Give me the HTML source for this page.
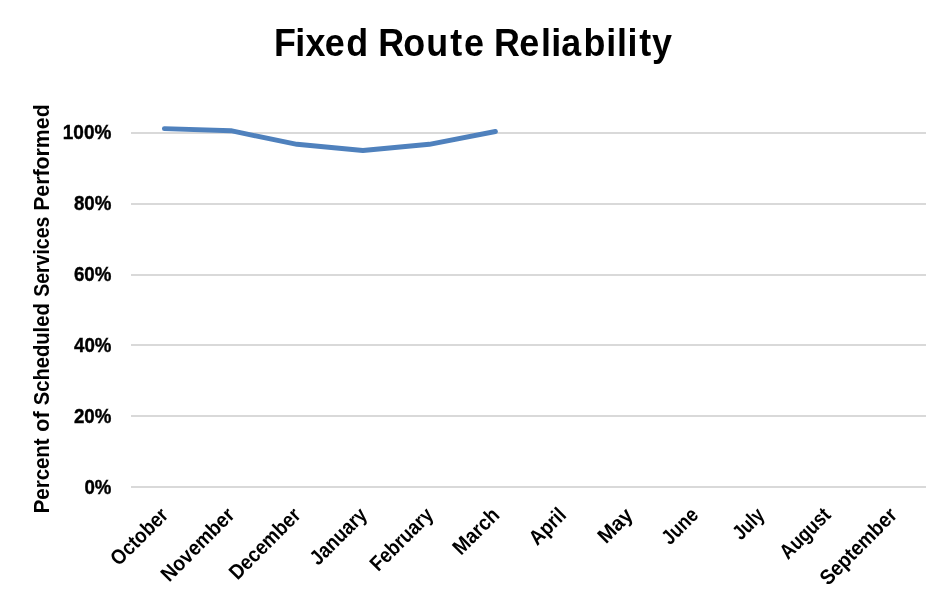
<!DOCTYPE html>
<html lang="en"><head><meta charset="utf-8"><title>Fixed Route Reliability</title>
<style>html,body{margin:0;padding:0;background:#fff;}svg{display:block;}text{font-family:"Liberation Sans",Arial,sans-serif;font-weight:bold;fill:#000;}</style></head>
<body>
<svg xmlns="http://www.w3.org/2000/svg" width="944" height="600" viewBox="0 0 944 600">
<rect width="944" height="600" fill="#fff"/>
<rect x="131" y="132" width="795" height="2" fill="#d9d9d9"/>
<rect x="131" y="203" width="795" height="2" fill="#d9d9d9"/>
<rect x="131" y="274" width="795" height="2" fill="#d9d9d9"/>
<rect x="131" y="344" width="795" height="2" fill="#d9d9d9"/>
<rect x="131" y="415" width="795" height="2" fill="#d9d9d9"/>
<rect x="131" y="486" width="795" height="2" fill="#d9d9d9"/>
<text transform="scale(0.9050,1)" y="56" font-size="39.6" x="302.80 326.16 337.55 358.82 382.66 408.86 417.95 445.52 471.08 497.45 512.59 539.25 545.97 573.86 597.69 609.15 620.26 644.72 669.93 681.64 693.30 706.24 720.44">Fixed Route Reliability</text>
<text x="62.81" y="139" font-size="20.2" stroke="#000" stroke-width="0.4" textLength="48.56" lengthAdjust="spacingAndGlyphs">100%</text>
<text x="73.92" y="210" font-size="20.2" stroke="#000" stroke-width="0.4" textLength="37.45" lengthAdjust="spacingAndGlyphs">80%</text>
<text x="73.92" y="281" font-size="20.2" stroke="#000" stroke-width="0.4" textLength="37.45" lengthAdjust="spacingAndGlyphs">60%</text>
<text x="74.00" y="352" font-size="20.2" stroke="#000" stroke-width="0.4" textLength="37.36" lengthAdjust="spacingAndGlyphs">40%</text>
<text x="73.92" y="423" font-size="20.2" stroke="#000" stroke-width="0.4" textLength="37.45" lengthAdjust="spacingAndGlyphs">20%</text>
<text x="84.42" y="494" font-size="20.2" stroke="#000" stroke-width="0.4" textLength="26.95" lengthAdjust="spacingAndGlyphs">0%</text>
<text transform="translate(49.2,513.28) rotate(-90)" font-size="21.6" textLength="74.88" lengthAdjust="spacingAndGlyphs">Percent</text>
<text transform="translate(49.2,431.67) rotate(-90)" font-size="21.6" textLength="20.24" lengthAdjust="spacingAndGlyphs">of</text>
<text transform="translate(49.2,405.32) rotate(-90)" font-size="21.6" textLength="102.11" lengthAdjust="spacingAndGlyphs">Scheduled</text>
<text transform="translate(49.2,296.80) rotate(-90)" font-size="21.6" textLength="80.09" lengthAdjust="spacingAndGlyphs">Services</text>
<text transform="translate(49.2,210.83) rotate(-90)" font-size="21.6" textLength="106.49" lengthAdjust="spacingAndGlyphs">Performed</text>
<text transform="translate(169.43,516.30) rotate(-45)" font-size="21" text-anchor="end" textLength="71.5" lengthAdjust="spacingAndGlyphs">October</text>
<text transform="translate(235.68,516.30) rotate(-45)" font-size="21" text-anchor="end" textLength="94" lengthAdjust="spacingAndGlyphs">November</text>
<text transform="translate(301.93,516.30) rotate(-45)" font-size="21" text-anchor="end" textLength="91.2" lengthAdjust="spacingAndGlyphs">December</text>
<text transform="translate(368.18,516.30) rotate(-45)" font-size="21" text-anchor="end" textLength="70.5" lengthAdjust="spacingAndGlyphs">January</text>
<text transform="translate(434.43,516.30) rotate(-45)" font-size="21" text-anchor="end" textLength="79.3" lengthAdjust="spacingAndGlyphs">February</text>
<text transform="translate(500.68,516.30) rotate(-45)" font-size="21" text-anchor="end" textLength="56" lengthAdjust="spacingAndGlyphs">March</text>
<text transform="translate(567.42,516.30) rotate(-45)" font-size="21" text-anchor="end" textLength="42.5" lengthAdjust="spacingAndGlyphs">April</text>
<text transform="translate(634.17,516.30) rotate(-45)" font-size="21" text-anchor="end" textLength="40" lengthAdjust="spacingAndGlyphs">May</text>
<text transform="translate(699.42,516.30) rotate(-45)" font-size="21" text-anchor="end" textLength="41.5" lengthAdjust="spacingAndGlyphs">June</text>
<text transform="translate(765.67,516.30) rotate(-45)" font-size="21" text-anchor="end" textLength="35" lengthAdjust="spacingAndGlyphs">July</text>
<text transform="translate(831.92,516.30) rotate(-45)" font-size="21" text-anchor="end" textLength="62" lengthAdjust="spacingAndGlyphs">August</text>
<text transform="translate(898.17,516.30) rotate(-45)" font-size="21" text-anchor="end" textLength="99" lengthAdjust="spacingAndGlyphs">September</text>
<polyline fill="none" stroke="#4f81bd" stroke-width="4.9" stroke-linecap="round" stroke-linejoin="round" points="164.4,128.6 230.8,130.7 297.0,144.3 362.9,150.5 429.3,144.3 495.4,131.5"/>
</svg>
</body></html>
